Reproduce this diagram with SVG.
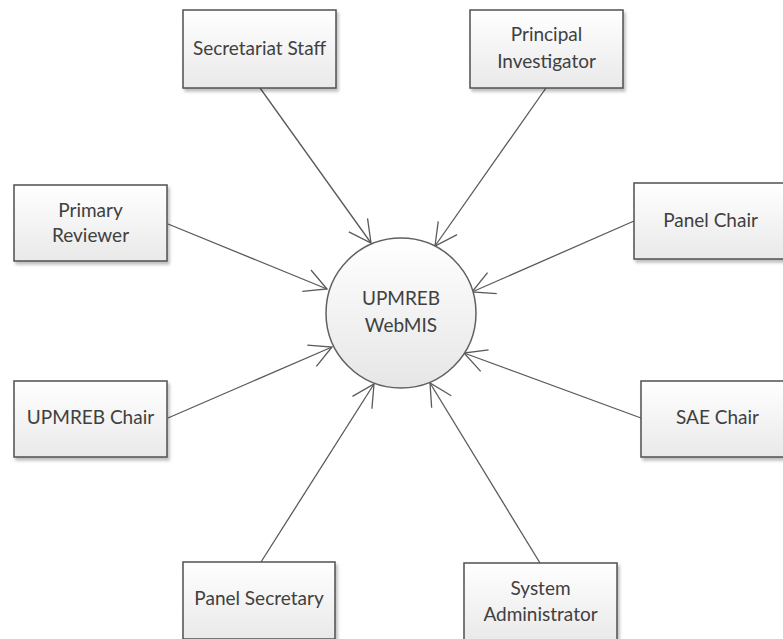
<svg xmlns="http://www.w3.org/2000/svg" width="783" height="639" viewBox="0 0 783 639">
<style>
.box{fill:url(#g);stroke:#505050;stroke-width:1.5;filter:url(#sh)}
.lbl{font-family:Lato,"Liberation Sans",sans-serif;font-size:19px;fill:#404040;text-anchor:middle}
.con{stroke:#5a5a5a;stroke-width:1.3;fill:none;marker-end:url(#arr)}
</style>
<defs>
<linearGradient id="g" x1="0" y1="0" x2="0" y2="1">
<stop offset="0" stop-color="#ffffff"/>
<stop offset="1" stop-color="#e9e9e9"/>
</linearGradient>
<linearGradient id="gc" x1="0" y1="0" x2="0" y2="1">
<stop offset="0" stop-color="#ffffff"/>
<stop offset="1" stop-color="#e6e6e6"/>
</linearGradient>
<filter id="sh" x="-10%" y="-10%" width="130%" height="130%">
<feDropShadow dx="2" dy="3" stdDeviation="1.5" flood-color="#000" flood-opacity="0.25"/>
</filter>
<marker id="arr" markerUnits="userSpaceOnUse" viewBox="-26 -15 28 30" markerWidth="28" markerHeight="30" refX="0" refY="0" orient="auto">
<path d="M-22,-11.5 L0,0 L-22,11.5" fill="none" stroke="#5a5a5a" stroke-width="1.3"/>
</marker>
</defs>
<g id="connectors">
<line class="con" x1="260" y1="88" x2="371" y2="243"/>
<line class="con" x1="546" y1="88" x2="435" y2="246"/>
<line class="con" x1="634" y1="221" x2="472" y2="292"/>
<line class="con" x1="168" y1="224" x2="327" y2="289"/>
<line class="con" x1="168" y1="418" x2="332" y2="347"/>
<line class="con" x1="261" y1="562" x2="374" y2="384"/>
<line class="con" x1="540" y1="563" x2="430" y2="383"/>
<line class="con" x1="641" y1="418" x2="464" y2="353"/>
</g>
<g id="webmis">
<circle cx="401" cy="313" r="75" fill="url(#gc)" stroke="#606060" stroke-width="1.5"/>
<text class="lbl" x="401" y="305">UPMREB</text>
<text class="lbl" x="401" y="332">WebMIS</text>
</g>
<g id="secretariat-staff">
<rect class="box" x="183" y="10" width="153" height="78"/>
<text class="lbl" x="259.5" y="55">Secretariat Staff</text>
</g>
<g id="principal-investigator">
<rect class="box" x="470" y="10" width="153" height="78"/>
<text class="lbl" x="546.5" y="41">Principal</text>
<text class="lbl" x="546.5" y="68">Investigator</text>
</g>
<g id="panel-chair">
<rect class="box" x="634" y="183" width="153" height="76"/>
<text class="lbl" x="710.5" y="227">Panel Chair</text>
</g>
<g id="primary-reviewer">
<rect class="box" x="14" y="185" width="153" height="76"/>
<text class="lbl" x="90.5" y="217">Primary</text>
<text class="lbl" x="90.5" y="242">Reviewer</text>
</g>
<g id="upmreb-chair">
<rect class="box" x="14" y="381" width="153" height="76"/>
<text class="lbl" x="90.5" y="424">UPMREB Chair</text>
</g>
<g id="sae-chair">
<rect class="box" x="641" y="381" width="153" height="76"/>
<text class="lbl" x="717.5" y="424">SAE Chair</text>
</g>
<g id="panel-secretary">
<rect class="box" x="183" y="562" width="152" height="77"/>
<text class="lbl" x="259" y="605">Panel Secretary</text>
</g>
<g id="system-administrator">
<rect class="box" x="464" y="563" width="153" height="78"/>
<text class="lbl" x="540.5" y="595">System</text>
<text class="lbl" x="540.5" y="621">Administrator</text>
</g>
</svg>
